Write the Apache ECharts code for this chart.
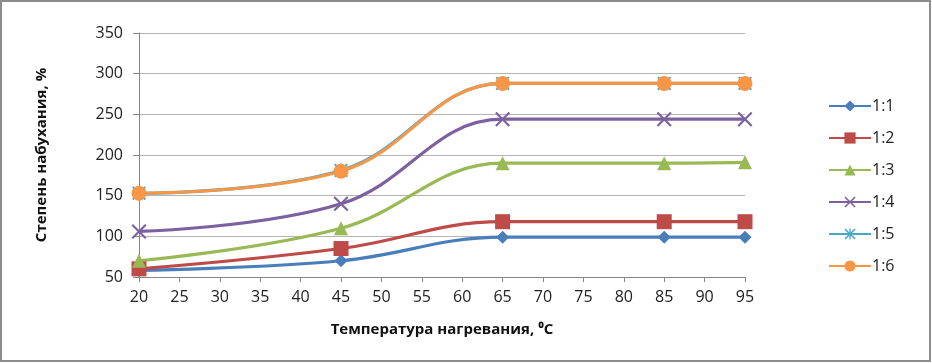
<!DOCTYPE html>
<html>
<head>
<meta charset="utf-8">
<script src="https://cdn.jsdelivr.net/npm/echarts@6/dist/echarts.min.js"></script>
<style>
  body { margin: 0; background: #fff; }
  #main { width: 932px; height: 363px; }
</style>
</head>
<body>
<div id="main"></div>
<script>
// температура, градусы
var temps = [20, 45, 65, 85, 95];
var names = ['1:1', '1:2', '1:3', '1:4', '1:5', '1:6'];
// степень набухания, %
var s11 = [58, 70, 99, 99, 99];
var s12 = [60, 85, 118, 118, 118];
var s13 = [70, 110, 190, 190, 191];
var s14 = [106, 140, 244, 244, 244];
var s15 = [153, 181, 288, 288, 288];
var s16 = [153, 180, 288, 288, 288];

var colors = ['#4A7EBB', '#BE4B48', '#98B954', '#7D60A0', '#46AAC5', '#F79646'];
var xPath = 'path://M0,1L1,0L5,4L9,0L10,1L6,5L10,9L9,10L5,6L1,10L0,9L4,5Z';
var starPath = 'path://M0,1L1,0L5,4L9,0L10,1L6,5L10,9L9,10L5,6L1,10L0,9L4,5ZM4.4,0L5.6,0L5.6,10L4.4,10Z';
var symbols = ['diamond', 'rect', 'triangle', xPath, starPath, 'circle'];
var sizes = [13, 15, 14, 15, 14, 15];
var allData = [s11, s12, s13, s14, s15, s16];

function pairs(arr) {
    var out = [];
    for (var i = 0; i < temps.length; i++) {
        out.push([temps[i], arr[i]]);
    }
    return out;
}

var series = [];
for (var k = 0; k < names.length; k++) {
    series.push({
        name: names[k],
        type: 'line',
        smooth: 0.4,
        data: pairs(allData[k]),
        symbol: symbols[k],
        symbolSize: sizes[k],
        lineStyle: { width: 3.2, color: colors[k] },
        itemStyle: { color: colors[k] }
    });
}

var myChart = echarts.init(document.getElementById('main'));
var option = {
    animation: false,
    color: colors,
    textStyle: { fontFamily: 'Open Sans' },
    graphic: [{
        type: 'rect',
        shape: { x: 1, y: 1, width: 929, height: 360 },
        style: { fill: 'none', stroke: '#8c8c8c', lineWidth: 2 }
    }],
    grid: { left: 139, right: 187, top: 33, bottom: 86 },
    legend: {
        orient: 'vertical',
        left: 823,
        top: 93,
        itemWidth: 42,
        itemHeight: 14,
        itemGap: 16,
        textStyle: { fontSize: 16, color: '#222', padding: [0, 0, 0, -4] },
        data: names
    },
    xAxis: {
        type: 'value',
        min: 20,
        max: 95,
        interval: 5,
        name: 'Температура нагревания, \u2070C',
        nameLocation: 'middle',
        nameGap: 45,
        nameTextStyle: { fontSize: 15, fontWeight: 'bold', color: '#111' },
        axisLine: { show: true, lineStyle: { color: '#868686', width: 1 } },
        axisTick: { show: true, length: 5, lineStyle: { color: '#868686' } },
        axisLabel: { fontSize: 16, color: '#222', margin: 12 },
        splitLine: { show: false }
    },
    yAxis: {
        type: 'value',
        min: 50,
        max: 350,
        interval: 50,
        name: 'Степень набухания, %',
        nameLocation: 'middle',
        nameGap: 90,
        nameTextStyle: { fontSize: 15, fontWeight: 'bold', color: '#111' },
        axisLine: { show: true, lineStyle: { color: '#868686', width: 1 } },
        axisTick: { show: true, length: 6, lineStyle: { color: '#868686' } },
        axisLabel: { fontSize: 16, color: '#222', margin: 16 },
        splitLine: { show: true, lineStyle: { color: '#b4b4b4', width: 1 } }
    },
    series: series
};
myChart.setOption(option);
</script>
</body>
</html>
